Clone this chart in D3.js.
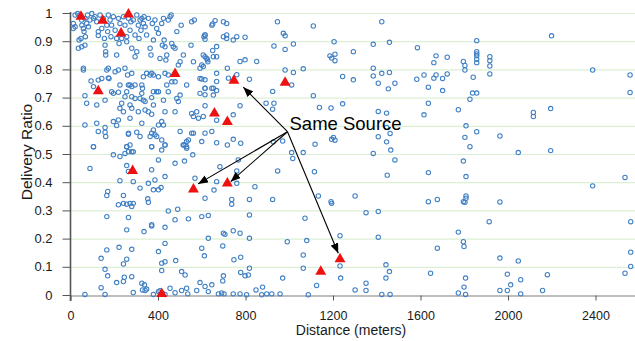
<!DOCTYPE html>
<html><head><meta charset="utf-8">
<script src="https://cdn.jsdelivr.net/npm/d3@7"></script>
<style>body{margin:0;background:#fff;} svg{display:block;font-family:"Liberation Sans",Arial,sans-serif;}</style>
</head><body><svg id="c" width="635" height="341"></svg>
<script>
const xTicks=[0,400,800,1200,1600,2000,2400];
const yTicks=[0,0.1,0.2,0.3,0.4,0.5,0.6,0.7,0.8,0.9,1];
const xLabel="Distance (meters)";
const yLabel="Delivery Ratio";
const annotationText="Same Source";
const annotationAnchor=[992,0.579];
const arrowTargets=[[790,0.737],[583,0.394],[732,0.402],[1224,0.148]];
const sameSource=[[48,0.987],[147,0.973],[265,0.995],[231,0.928],[478,0.784],[127,0.723],[658,0.644],[717,0.614],[284,0.440],[562,0.375],[717,0.396],[417,0.004],[747,0.760],[981,0.753],[1144,0.083],[1232,0.127]];
const nodes=[
[13,0.963],[21,0.951],[13,0.945],[21,0.993],[33,0.998],[44,0.993],[51,0.975],[52,0.957],[59,0.945],[62,0.934],[66,0.981],[68,0.916],[48,0.910],[74,0.963],[78,0.993],[82,0.951],[89,0.975],[97,0.998],[105,0.981],[112,0.987],[120,0.969],[127,0.934],[127,0.920],[135,0.993],[143,0.945],[150,0.981],[155,0.910],[158,0.886],[161,0.863],[166,0.957],[170,0.934],[173,0.993],[181,0.975],[185,0.916],[188,0.957],[196,0.987],[204,0.939],[211,0.910],[211,0.851],[219,0.981],[222,0.892],[226,0.963],[234,0.910],[242,0.987],[249,0.957],[257,0.916],[257,0.898],[265,0.981],[272,0.939],[276,0.969],[280,0.875],[287,0.975],[295,0.922],[295,0.845],[303,0.993],[303,0.863],[310,0.957],[313,0.910],[318,0.975],[322,0.939],[326,0.981],[333,0.963],[336,0.987],[341,0.951],[348,0.922],[356,0.981],[364,0.875],[368,0.851],[374,0.963],[379,0.904],[386,0.975],[394,0.945],[402,0.928],[409,0.839],[417,0.963],[420,0.886],[425,0.981],[428,0.904],[432,0.880],[436,0.833],[440,0.851],[447,0.975],[455,0.987],[460,0.993],[463,0.892],[470,0.880],[478,0.875],[486,0.934],[493,0.816],[501,0.827],[506,0.957],[516,0.851],[551,0.886],[554,0.969],[562,0.827],[566,0.975],[592,0.804],[600,0.816],[607,0.851],[610,0.916],[615,0.922],[623,0.839],[628,0.827],[646,0.957],[653,0.845],[173,0.804],[166,0.798],[59,0.804],[59,0.798],[204,0.792],[219,0.798],[249,0.804],[261,0.780],[280,0.786],[333,0.774],[348,0.786],[364,0.780],[371,0.786],[379,0.780],[402,0.774],[432,0.786],[447,0.780],[36,0.875],[51,0.880],[66,0.886],[39,0.904],[161,0.851],[143,0.768],[173,0.770],[592,0.768],
[94,0.759],[127,0.762],[105,0.739],[176,0.768],[226,0.745],[265,0.745],[272,0.745],[280,0.739],[295,0.745],[326,0.745],[329,0.733],[66,0.707],[74,0.680],[120,0.674],[158,0.691],[188,0.721],[196,0.715],[219,0.719],[249,0.703],[257,0.721],[280,0.703],[295,0.697],[318,0.697],[326,0.715],[333,0.691],[341,0.686],[371,0.700],[379,0.721],[394,0.721],[402,0.721],[425,0.691],[440,0.745],[447,0.721],[463,0.756],[478,0.756],[486,0.697],[501,0.709],[493,0.686],[531,0.745],[577,0.650],[592,0.715],[600,0.766],[615,0.733],[646,0.733],[653,0.709],[226,0.662],[234,0.680],[242,0.650],[272,0.674],[280,0.662],[310,0.650],[341,0.656],[356,0.650],[371,0.641],[379,0.674],[432,0.650],[478,0.650],[554,0.644],[562,0.633],[585,0.627],[607,0.633],[554,0.574],[66,0.603],[120,0.609],[127,0.580],[158,0.594],[158,0.577],[161,0.562],[196,0.615],[211,0.601],[219,0.621],[272,0.627],[265,0.574],[265,0.570],[272,0.532],[257,0.526],[303,0.577],[318,0.562],[326,0.609],[364,0.562],[371,0.574],[379,0.585],[386,0.568],[394,0.562],[402,0.603],[417,0.615],[425,0.603],[432,0.532],[417,0.550],[501,0.580],[516,0.532],[524,0.532],[531,0.526],[531,0.544],[539,0.550],[562,0.574],[600,0.544],[615,0.574],[646,0.580],[105,0.526],[371,0.526],
[105,0.526],[257,0.526],[265,0.508],[280,0.508],[371,0.526],[417,0.514],[432,0.532],[516,0.532],[531,0.520],[196,0.497],[226,0.491],[249,0.502],[287,0.508],[402,0.479],[478,0.467],[521,0.475],[559,0.497],[89,0.449],[257,0.459],[265,0.438],[371,0.444],[386,0.408],[226,0.405],[287,0.402],[318,0.379],[356,0.396],[379,0.373],[402,0.373],[414,0.381],[432,0.420],[569,0.414],[170,0.367],[166,0.353],[242,0.353],[219,0.320],[242,0.325],[257,0.322],[272,0.325],[280,0.314],[287,0.325],[353,0.341],[356,0.329],[447,0.298],[490,0.304],[615,0.343],[166,0.278],[265,0.275],[371,0.249],[478,0.267],[539,0.270],[600,0.278],[630,0.282],
[257,0.231],[336,0.225],[371,0.245],[432,0.240],[630,0.201],[166,0.160],[222,0.169],[280,0.162],[140,0.130],[257,0.127],[242,0.110],[402,0.154],[432,0.183],[432,0.118],[417,0.113],[481,0.122],[600,0.166],[612,0.139],[158,0.091],[170,0.068],[211,0.044],[242,0.048],[246,0.063],[280,0.065],[417,0.087],[508,0.083],[524,0.071],[140,0.026],[326,0.042],[338,0.036],[348,0.021],[329,0.018],[341,0.016],[287,0.009],[402,0.012],[409,0.015],[420,0.006],[455,0.024],[478,0.008],[508,0.016],[531,0.024],[536,0.004],[577,0.016],[592,0.044],[615,0.030],[630,0.012],[646,0.036],[66,0.002],[158,0.002],[379,0.002],[432,0.002],
[661,0.973],[650,0.961],[699,0.969],[714,0.963],[615,0.922],[615,0.907],[699,0.916],[714,0.922],[714,0.910],[744,0.904],[760,0.916],[798,0.914],[668,0.881],[650,0.867],[615,0.845],[626,0.834],[668,0.845],[607,0.810],[775,0.828],[798,0.834],[851,0.828],[717,0.804],[668,0.786],[615,0.763],[668,0.757],[722,0.769],[760,0.781],[818,0.765],[615,0.733],[653,0.733],[668,0.725],[615,0.710],[615,0.671],[775,0.671],[744,0.639],[946,0.969],[973,0.928],[981,0.919],[1110,0.954],[930,0.883],[981,0.871],[1019,0.890],[1205,0.898],[1293,0.863],[1384,0.889],[1458,0.896],[1586,0.877],[1186,0.848],[1194,0.840],[1209,0.854],[1209,0.831],[1384,0.804],[1423,0.786],[1458,0.789],[1384,0.777],[1407,0.751],[1483,0.751],[1583,0.765],[1453,0.731],[981,0.798],[1019,0.789],[1064,0.802],[1244,0.775],[1293,0.763],[1011,0.745],[924,0.722],[1110,0.707],[894,0.680],[930,0.680],[924,0.659],[1138,0.665],[1191,0.663],[1244,0.678],[1407,0.651],[1445,0.645],[1423,0.969],
[668,0.620],[668,0.540],[717,0.532],[744,0.552],[778,0.538],[927,0.543],[970,0.546],[1445,0.594],[1461,0.573],[1407,0.561],[1445,0.543],[1202,0.559],[1209,0.549],[1194,0.552],[1118,0.535],[1384,0.502],[1464,0.514],[1483,0.479],[1011,0.505],[1016,0.484],[1064,0.505],[767,0.479],[760,0.440],[683,0.455],[668,0.402],[760,0.396],[656,0.372],[843,0.384],[947,0.440],[1115,0.437],[1448,0.425],[737,0.339],[737,0.322],[818,0.339],[924,0.339],[1133,0.351],[1194,0.325],[1191,0.331],[1301,0.351],[818,0.284],[1072,0.272],[1351,0.292],[1407,0.296],
[699,0.219],[706,0.215],[744,0.228],[775,0.219],[818,0.201],[991,0.189],[1080,0.193],[1232,0.210],[1407,0.205],[696,0.174],[747,0.125],[778,0.134],[1064,0.142],[1232,0.103],[1442,0.107],[1458,0.083],[1064,0.095],[778,0.080],[798,0.068],[813,0.071],[818,0.095],[699,0.068],[970,0.060],[1235,0.060],[1442,0.060],[696,0.050],[848,0.018],[1125,0.034],[1351,0.042],[1301,0.018],[1351,0.016],[878,0.028],[676,0.004],[691,0.007],[702,0.004],[744,0.004],[775,0.004],[805,0.001],[874,0.001],[897,0.004],[920,0.004],[958,0.004],[1087,0.001],[1423,0.002],[1461,0.002],
[1808,0.600],[1857,0.579],[1803,0.559],[1963,0.564],[1826,0.526],[2047,0.505],[2195,0.512],[1796,0.475],[1636,0.434],[1808,0.420],[2535,0.417],[2387,0.387],[1636,0.331],[1677,0.339],[1808,0.351],[1808,0.343],[1796,0.331],[1803,0.329],[1963,0.330],
[1857,0.902],[2199,0.919],[1671,0.848],[1722,0.843],[1857,0.863],[1857,0.855],[1857,0.848],[1917,0.845],[1661,0.824],[1796,0.828],[1803,0.814],[1857,0.836],[1857,0.824],[1917,0.831],[1917,0.812],[1616,0.780],[1671,0.780],[1661,0.769],[1701,0.768],[1722,0.784],[1803,0.798],[1841,0.772],[1917,0.784],[2387,0.798],[2558,0.780],[1636,0.737],[1701,0.725],[1826,0.694],[1838,0.716],[1857,0.716],[2558,0.718],[1636,0.680],[1773,0.657],[1616,0.639],[2116,0.647],[2116,0.633],[2195,0.661],
[1914,0.260],[2561,0.260],[1773,0.223],[1796,0.189],[1799,0.172],[1677,0.166],[2561,0.152],[1963,0.131],[2047,0.121],[2561,0.101],[2535,0.077],[1646,0.077],[1997,0.074],[2180,0.072],[1806,0.060],[2058,0.054],[1799,0.028],[2012,0.036],[1963,0.016],[1997,0.016],[2158,0.016],[1773,0.007],[1806,0.002],[2058,0.004]
];

const svg=d3.select("#c");
const x=d3.scaleLinear().domain([0,2600]).range([70.5,639.25]);
const y=d3.scaleLinear().domain([0,1]).range([295,13]);

// grid
svg.append("g").selectAll("line").data(yTicks.slice(1)).join("line")
  .attr("x1",70.5).attr("x2",635).attr("y1",d=>y(d)+0.5).attr("y2",d=>y(d)+0.5)
  .attr("stroke","#dcefd4").attr("stroke-width",1.2);

// x axis
const gx=svg.append("g").attr("transform","translate(0,295.5)")
  .call(d3.axisBottom(x).tickValues(xTicks).tickSize(5).tickPadding(10.5).tickSizeOuter(0).tickFormat(d3.format("d")));
gx.select(".domain").attr("stroke","#a8a8a8").attr("stroke-width",1.5);
gx.selectAll(".tick line").attr("stroke","#555");
gx.selectAll("text").attr("font-size","12.5px").attr("fill","#1a1a1a").attr("font-family","Liberation Sans, Arial, sans-serif");

// y axis
const gy=svg.append("g").attr("transform","translate(70.5,0)")
  .call(d3.axisLeft(y).tickValues(yTicks).tickSize(8).tickPadding(10).tickSizeOuter(0).tickFormat(d=>d3.format("")(+d.toFixed(1))));
gy.select(".domain").remove();
gy.selectAll(".tick line").attr("stroke","#555");
gy.selectAll("text").attr("font-size","13px").attr("fill","#1a1a1a").attr("font-family","Liberation Sans, Arial, sans-serif");
svg.append("line").attr("x1",70.5).attr("x2",70.5).attr("y1",y(1)-1).attr("y2",301).attr("stroke","#555").attr("stroke-width",1.6);

// points
svg.append("clipPath").attr("id","cp").append("rect").attr("x",66).attr("y",5).attr("width",569).attr("height",296);
svg.append("g").attr("clip-path","url(#cp)").selectAll("circle").data(nodes).join("circle")
  .attr("cx",d=>x(d[0])).attr("cy",d=>y(Math.min(d[1],1)))
  .attr("r",2.2).attr("fill","none").attr("stroke","#3f7fc4").attr("stroke-width",1.05);

// triangles
svg.append("g").selectAll("path").data(sameSource).join("path")
  .attr("transform",d=>`translate(${x(d[0])},${y(d[1])})`)
  .attr("d",d3.symbol(d3.symbolTriangle,52)).attr("fill","#ee1111");

// arrows
const defs=svg.append("defs");
defs.append("marker").attr("id","ah").attr("viewBox","0 0 10 8").attr("refX",10).attr("refY",4)
  .attr("markerWidth",10).attr("markerHeight",8).attr("markerUnits","userSpaceOnUse").attr("orient","auto")
  .append("path").attr("d","M0,0L10,4L0,8Z").attr("fill","#000");
const ax=x(annotationAnchor[0]), ay=y(annotationAnchor[1]);
svg.append("g").selectAll("line").data(arrowTargets).join("line")
  .attr("x1",ax).attr("y1",ay).attr("x2",d=>x(d[0])).attr("y2",d=>y(d[1]))
  .attr("stroke","#000").attr("stroke-width",1.1).attr("marker-end","url(#ah)");
svg.append("text").attr("x",ax+2).attr("y",ay-1.5).attr("font-size","18.5px").attr("fill","#000").text(annotationText);

// axis titles
svg.append("text").attr("x",351).attr("y",335).attr("text-anchor","middle").attr("font-size","14px").attr("fill","#1a1a1a").text(xLabel);
svg.append("text").attr("transform","translate(32,152) rotate(-90)").attr("text-anchor","middle").attr("font-size","15.5px").attr("fill","#1a1a1a").text(yLabel);
</script></body></html>
